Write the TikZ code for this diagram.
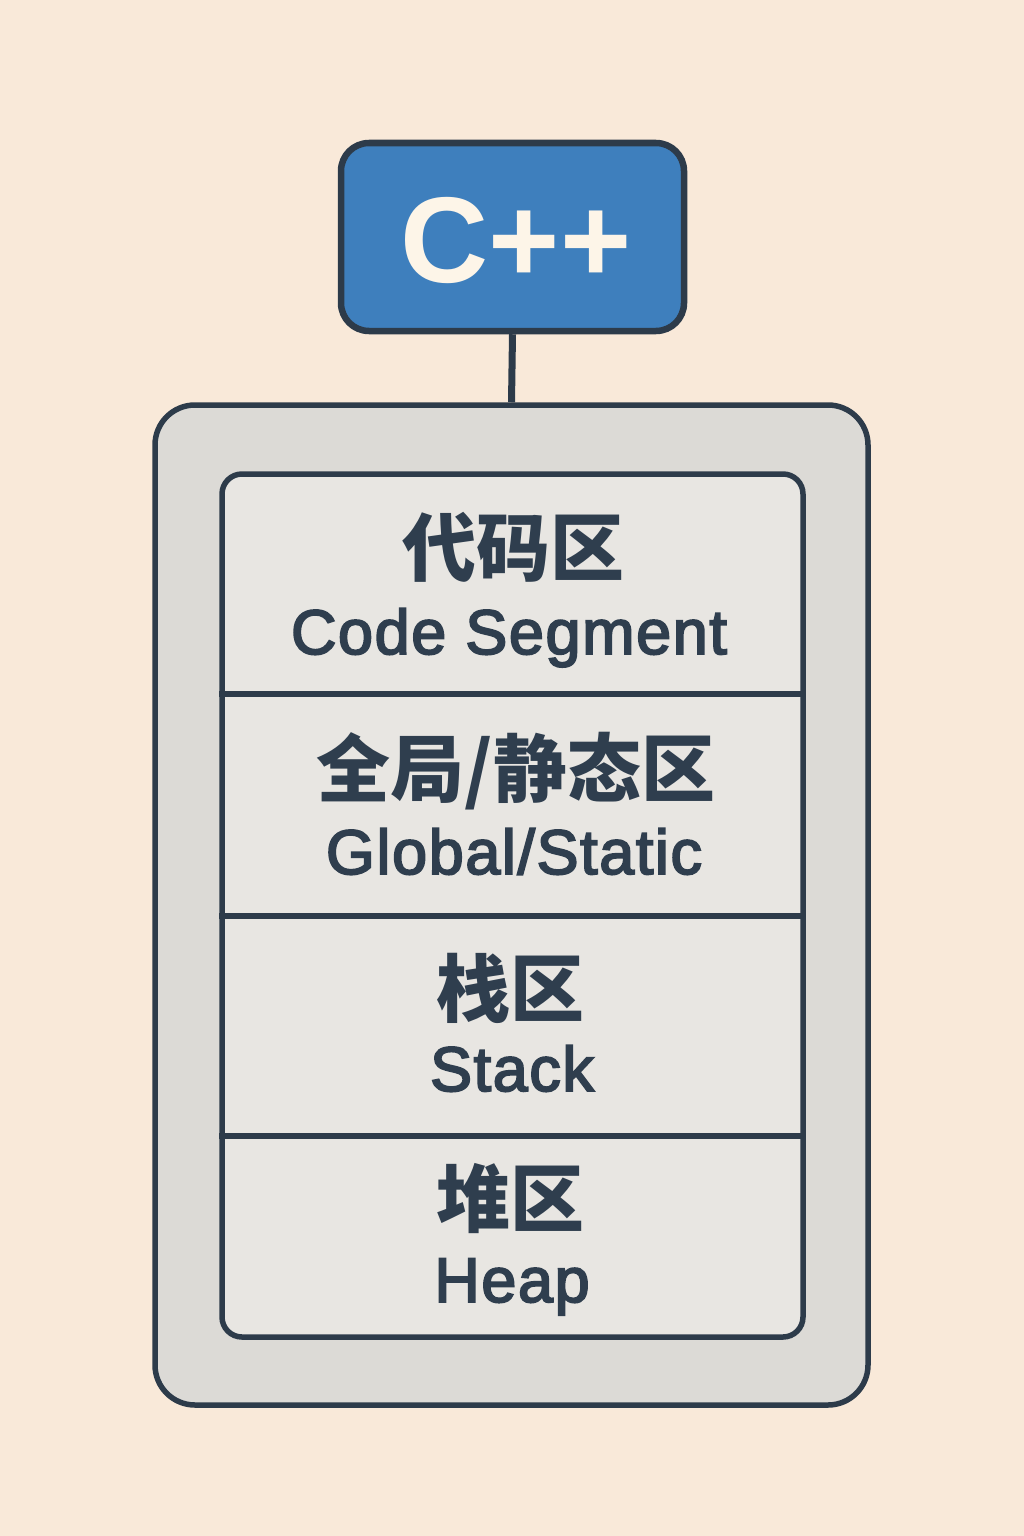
\documentclass[tikz,border=0pt]{standalone}
\usepackage{fontspec}
\setmainfont{Liberation Sans}
\newfontfamily\cjk{Noto Sans CJK SC}
\newfontfamily\latmed[FakeBold=3,LetterSpace=2.5]{Liberation Sans}
\definecolor{bg}{HTML}{F9E9D9}
\definecolor{ink}{HTML}{2D3B4A}
\definecolor{cppblue}{HTML}{3E7FBD}
\definecolor{outerfill}{HTML}{DCDAD6}
\definecolor{innerfill}{HTML}{E8E6E2}
\definecolor{txt}{HTML}{2F3E4E}
\definecolor{cream}{HTML}{FDF5E8}
\begin{document}
\begin{tikzpicture}[x=1pt,y=-1pt,
  cppbox/.style={draw=ink, line width=6.5pt, fill=cppblue, rounded corners=28pt, inner sep=0pt},
  cpplabel/.style={text=cream, font=\bfseries\fontsize{122}{128}\selectfont, inner sep=0pt, anchor=base},
  outerbox/.style={draw=ink, line width=5.5pt, fill=outerfill, rounded corners=40pt, inner sep=0pt},
  innerbox/.style={draw=ink, line width=5.5pt, fill=innerfill, rounded corners=20pt, inner sep=0pt},
  divider/.style={draw=ink, line width=5.5pt},
  connector/.style={draw=ink, line width=7pt},
  zh/.style={text=txt, anchor=base, inner sep=0pt, font=\cjk\bfseries\fontsize{74}{80}\selectfont},
  en/.style={text=txt, anchor=base, inner sep=0pt, font=\latmed\fontsize{63}{70}\selectfont}]
\useasboundingbox (0,0) rectangle (1024,1536);
\fill[bg] (0,0) rectangle (1024,1536);
\node[outerbox, minimum width=713pt, minimum height=1000pt] (outer) at (511.5,905) {};
\node[innerbox, minimum width=581pt, minimum height=863pt] (inner) at (512.5,905.5) {};
\node[cppbox, minimum width=343pt, minimum height=188pt] (cpp) at (512.5,237) {};
\node[cpplabel] (cpptxt) at (516,282) {C++};
\draw[connector] (cpp.south) -- (outer.north);
\coordinate (d1) at (0,694);
\coordinate (d2) at (0,916);
\coordinate (d3) at (0,1136);
\draw[divider] (inner.west |- d1) -- (inner.east |- d1);
\draw[divider] (inner.west |- d2) -- (inner.east |- d2);
\draw[divider] (inner.west |- d3) -- (inner.east |- d3);
\node[zh] (z1) at (513,575) {代码区};
\node[en] (e1) at (509,654) {Code Segment};
\node[zh] (z2) at (516,796) {全局/静态区};
\node[en] (e2) at (514,874) {Global/Static};
\node[zh] (z3) at (510,1016) {栈区};
\node[en] (e3) at (512,1091) {Stack};
\node[zh] (z4) at (510,1226) {堆区};
\node[en] (e4) at (512,1302) {Heap};
\end{tikzpicture}
\end{document}
